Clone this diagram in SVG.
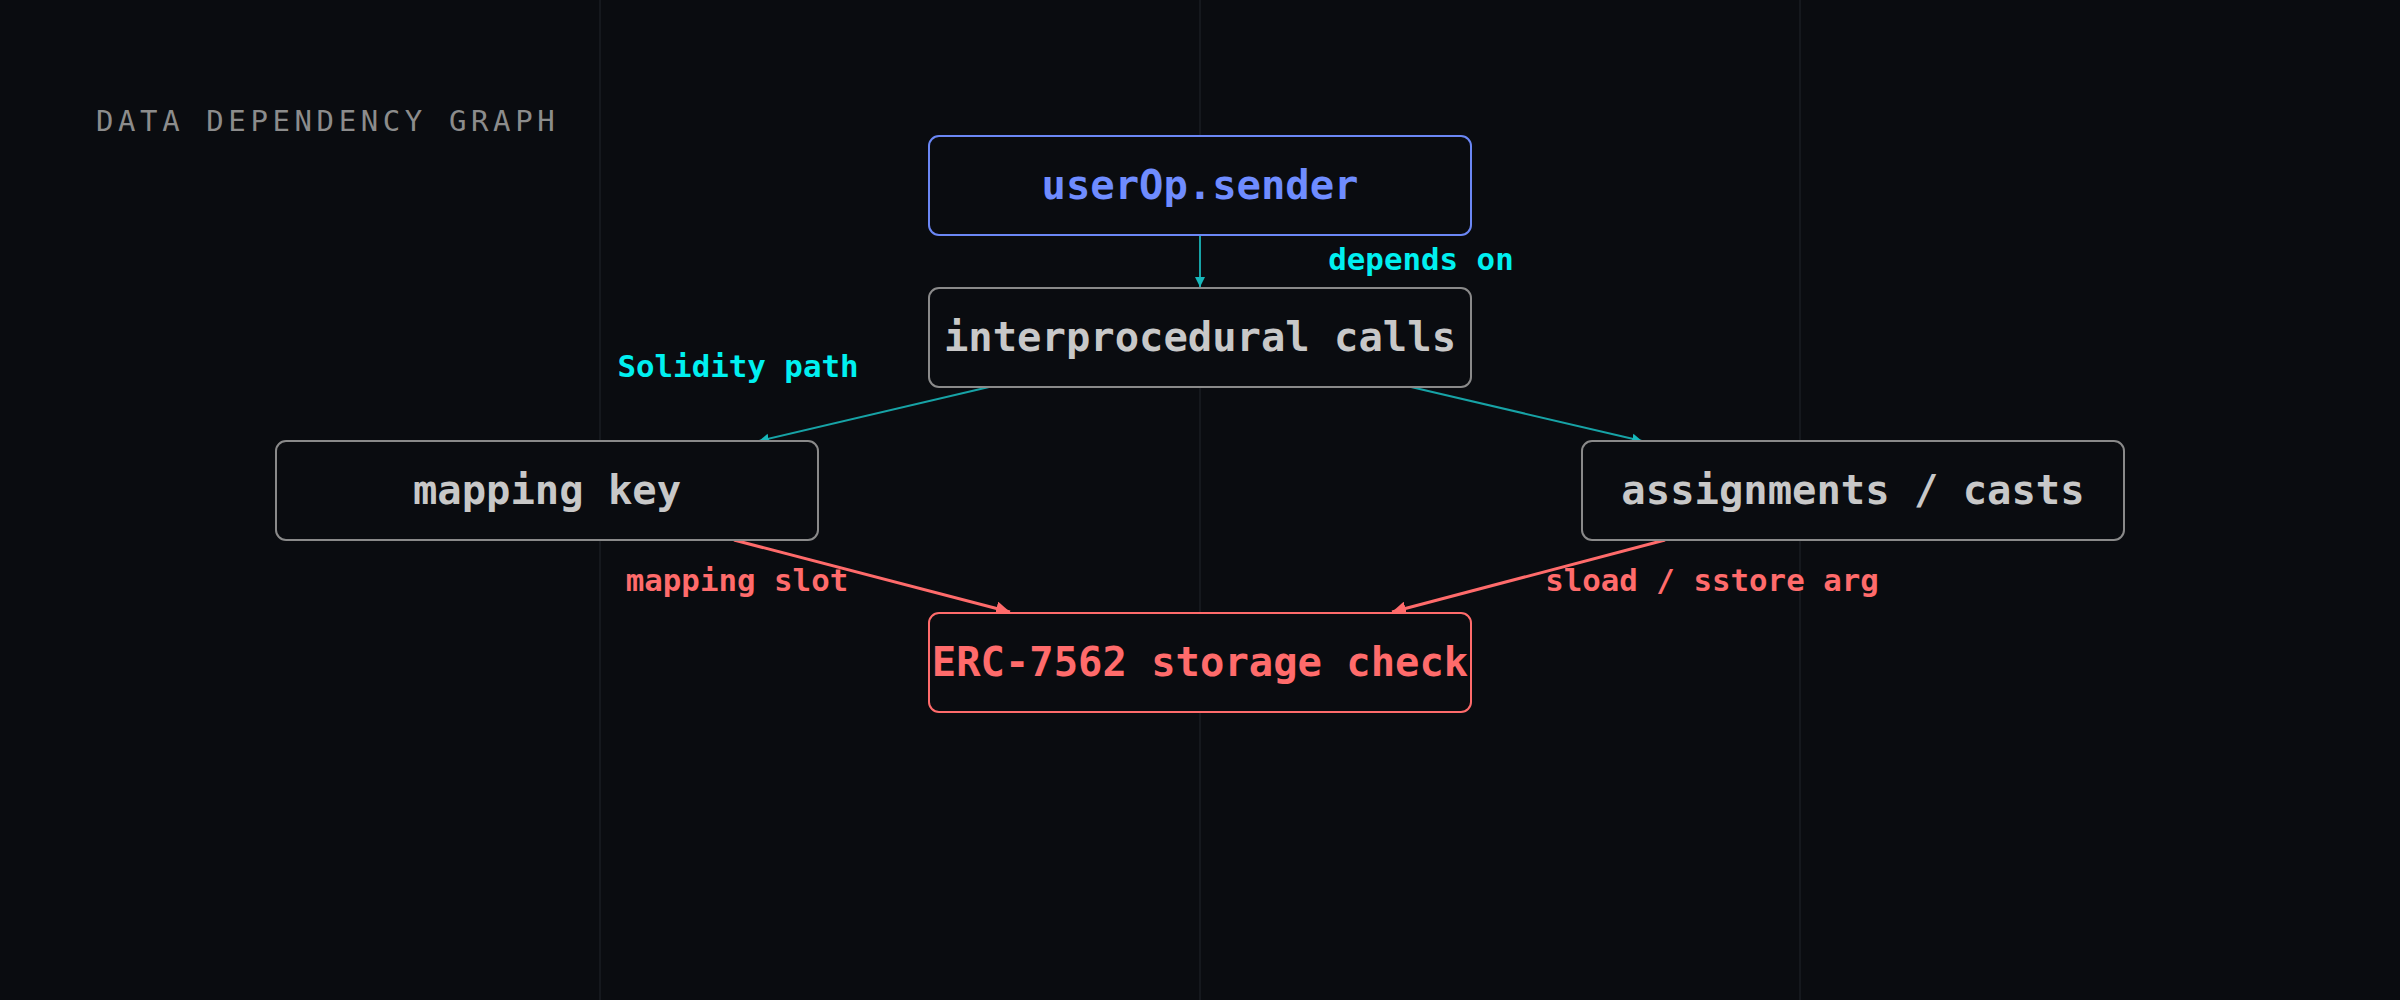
<svg xmlns="http://www.w3.org/2000/svg" width="2400" height="1000" viewBox="0 0 2400 1000">
<defs>
<style>
.bg{fill:#0a0c10}
.grid{stroke:#15181d;stroke-width:2}
.title{font-family:"DejaVu Sans Mono","Liberation Mono",monospace;font-size:29px;fill:#8c8c8c;letter-spacing:4.6px}
.box{fill:#0a0c10;stroke-width:2;}
.nt{font-family:"DejaVu Sans Mono","Liberation Mono",monospace;font-weight:bold;font-size:40.5px;text-anchor:middle;dominant-baseline:central}
.el{font-family:"DejaVu Sans Mono","Liberation Mono",monospace;font-weight:bold;font-size:30.8px;text-anchor:middle;dominant-baseline:central}
.teal{stroke:#17a3a6;stroke-width:2;fill:none}
.red{stroke:#ff6b6b;stroke-width:3;fill:none}
</style>
<marker id="at" viewBox="0 0 10 10" refX="10" refY="5" markerWidth="10" markerHeight="11" markerUnits="userSpaceOnUse" orient="auto">
<path d="M0,0 L10,5 L0,10 z" fill="#17b8bb"/>
</marker>
<marker id="ar" viewBox="0 0 10 10" refX="10" refY="5" markerWidth="14" markerHeight="14" markerUnits="userSpaceOnUse" orient="auto">
<path d="M0,0 L10,5 L0,10 z" fill="#ff6b6b"/>
</marker>
</defs>
<rect class="bg" x="0" y="0" width="2400" height="1000"/>
<g id="grid">
<line class="grid" x1="600" y1="0" x2="600" y2="1000"/>
<line class="grid" x1="1200" y1="0" x2="1200" y2="1000"/>
<line class="grid" x1="1800" y1="0" x2="1800" y2="1000"/>
</g>
<text class="title" x="96" y="131">DATA DEPENDENCY GRAPH</text>
<g id="connectors">
<line class="teal" x1="1200" y1="235" x2="1200" y2="287" marker-end="url(#at)"/>
<line class="teal" x1="989" y1="387" x2="759" y2="441" marker-end="url(#at)"/>
<line class="teal" x1="1411" y1="387" x2="1642" y2="441" marker-end="url(#at)"/>
<line class="red" x1="734" y1="540" x2="1010" y2="612" marker-end="url(#ar)"/>
<line class="red" x1="1665" y1="540" x2="1392" y2="612" marker-end="url(#ar)"/>
<text class="el" x="1421" y="259" fill="#00f0f0">depends on</text>
<text class="el" x="738" y="366" fill="#00f0f0">Solidity path</text>
<text class="el" x="737" y="580" fill="#ff6b6b">mapping slot</text>
<text class="el" x="1712" y="580" fill="#ff6b6b">sload / sstore arg</text>
</g>
<g id="node-sender">
<rect class="box" x="929" y="136" width="542" height="99" rx="10" stroke="#6b87f5"/>
<text class="nt" x="1200" y="185" fill="#6f8cff">userOp.sender</text>
</g>
<g id="node-interprocedural">
<rect class="box" x="929" y="288" width="542" height="99" rx="10" stroke="#8a8a8a"/>
<text class="nt" x="1200" y="337" fill="#c8c8c8">interprocedural calls</text>
</g>
<g id="node-mapping">
<rect class="box" x="276" y="441" width="542" height="99" rx="10" stroke="#8a8a8a"/>
<text class="nt" x="547" y="490" fill="#c8c8c8">mapping key</text>
</g>
<g id="node-assign">
<rect class="box" x="1582" y="441" width="542" height="99" rx="10" stroke="#8a8a8a"/>
<text class="nt" x="1853" y="490" fill="#c8c8c8">assignments / casts</text>
</g>
<g id="node-erc">
<rect class="box" x="929" y="613" width="542" height="99" rx="10" stroke="#ff6b6b" stroke-width="3"/>
<text class="nt" x="1200" y="662" fill="#ff6b6b">ERC-7562 storage check</text>
</g>
</svg>
